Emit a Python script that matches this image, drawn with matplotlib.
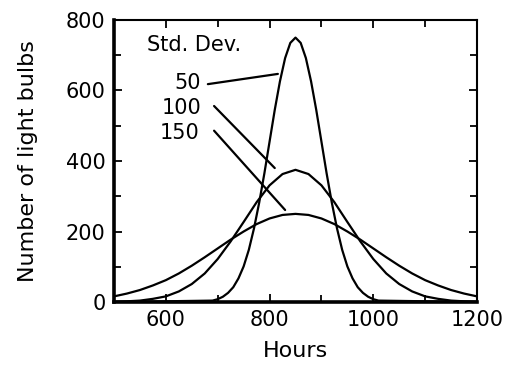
import matplotlib
matplotlib.use("Agg")
import matplotlib.pyplot as plt
from matplotlib.ticker import MultipleLocator

plt.rcParams["font.family"] = ["DejaVu Sans"]

# values
HOURS_50 = [500, 690, 700, 710, 720, 730, 740, 750, 760, 770, 780, 790, 800, 810, 820,
            830, 840, 850, 860, 870, 880, 890, 900, 910, 920, 930, 940, 950, 960, 970,
            980, 990, 1000, 1010, 1200]
BULBS_50 = [0, 4, 8, 15, 26, 42, 67, 101, 148, 209, 282, 365, 455, 545, 626,
            692, 735, 750, 735, 692, 626, 545, 455, 365, 282, 209, 148, 101, 67, 42,
            26, 15, 8, 4, 0]

HOURS_WIDE = [500, 525, 550, 575, 600, 625, 650, 675, 700, 725, 750, 775, 800, 825,
              850, 875, 900, 925, 950, 975, 1000, 1025, 1050, 1075, 1100, 1125, 1150,
              1175, 1200]
BULBS_100 = [1, 2, 4, 9, 16, 30, 51, 81, 122, 172, 227, 283, 331, 363,
             375, 363, 331, 283, 227, 172, 122, 81, 51, 30, 16, 9, 4, 2, 1]
BULBS_150 = [16, 24, 34, 47, 62, 81, 103, 127, 152, 177, 200, 221, 237, 247,
             250, 247, 237, 221, 200, 177, 152, 127, 103, 81, 62, 47, 34, 24, 16]

SD_LABELS = ["50", "100", "150"]

fig = plt.figure(figsize=(5.05, 3.68), dpi=100)
ax = fig.add_axes([0.2257, 0.1793, 0.7189, 0.7664])

lw = 1.6
style = dict(color="black", lw=lw, zorder=3, solid_joinstyle="round",
             solid_capstyle="round")
ax.plot(HOURS_50, BULBS_50, **style)
ax.plot(HOURS_WIDE, BULBS_100, **style)
ax.plot(HOURS_WIDE, BULBS_150, **style)

# leader lines from the labels to each curve
leaders = [((681, 618), (816, 647)), ((693, 556), (810, 380)), ((693, 486), (830, 261))]
label_pos = [(668, 621), (668, 550), (664, 479)]
for lab, (x, y), (p0, p1) in zip(SD_LABELS, label_pos, leaders):
    ax.text(x, y, lab, ha="right", va="center", fontsize=15)
    ax.plot([p0[0], p1[0]], [p0[1], p1[1]], **style)
ax.text(654, 729, "Std. Dev.", ha="center", va="center", fontsize=15)

ax.set_xlim(500, 1200)
ax.set_ylim(0, 800)
ax.xaxis.set_major_locator(MultipleLocator(200))
ax.xaxis.set_minor_locator(MultipleLocator(100))
ax.yaxis.set_major_locator(MultipleLocator(200))
ax.yaxis.set_minor_locator(MultipleLocator(100))
ax.tick_params(which="both", direction="in", top=True, right=True, labelsize=15,
               width=1.3, pad=6)
ax.tick_params(which="major", length=6)
ax.tick_params(which="minor", length=5)

for side in ("left", "bottom"):
    ax.spines[side].set_linewidth(2.6)
for side in ("top", "right"):
    ax.spines[side].set_linewidth(1.5)

ax.set_xlabel("Hours", fontsize=16, labelpad=8)
ax.set_ylabel("Number of light bulbs", fontsize=16, labelpad=20)

fig.savefig("out.png", dpi=100)
